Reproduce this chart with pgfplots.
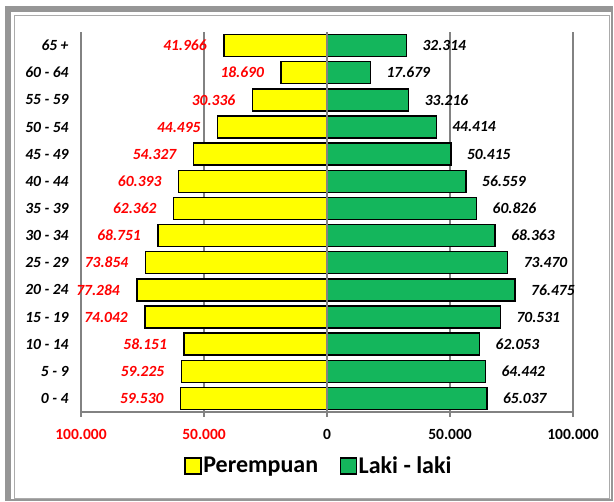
\documentclass[border=0pt]{standalone}
\usepackage{fontspec}
\setmainfont{Carlito}
\usepackage{pgfplots}
\pgfplotsset{compat=1.18}
\definecolor{fem}{RGB}{255,255,0}
\definecolor{mal}{RGB}{20,182,92}
\definecolor{lab}{RGB}{255,0,0}
\definecolor{framec}{RGB}{150,150,150}
\definecolor{gridc}{RGB}{130,130,130}
\begin{document}
\begin{tikzpicture}
\path (-81pt,-90pt) rectangle (533pt,412pt);
\fill[framec] (-75pt,400pt) rectangle (531pt,405pt);
\fill[framec] (-75pt,-88pt) rectangle (-70pt,405pt);
\draw[framec, line width=1.2pt] (-75pt,-88pt) rectangle (531pt,405pt);
\draw[framec!80, line width=0.8pt] (-67pt,-86pt) rectangle (528pt,397pt);
\begin{axis}[
  at={(0pt,0pt)}, anchor=south west,
  scale only axis, width=492pt, height=380pt,
  xbar, bar width=22pt, bar shift=0pt,
  xmin=-100000, xmax=100000, ymin=-0.5, ymax=13.5,
  scaled x ticks=false,
  ytick={0,...,13},
  yticklabels={0 - 4,5 - 9,10 - 14,15 - 19,20 - 24,25 - 29,30 - 34,35 - 39,40 - 44,45 - 49,50 - 54,55 - 59,60 - 64,65 +},
  xtick={-100000,-50000,0,50000,100000},
  xticklabels={\textcolor{lab}{100.000},\textcolor{lab}{50.000},0,50.000,100.000},
  /pgf/number format/assume math mode=true,
  tick label style={font=\fontsize{15.5}{18}\selectfont\bfseries},
  yticklabel style={font=\fontsize{15.5}{18}\selectfont\bfseries\itshape, xshift=-4pt},
  xticklabel style={yshift=-9pt},
  axis lines*=left,
  axis line style={gridc, line width=1.5pt},
  ytick style={draw=none},
  xtick style={gridc, line width=1.2pt},
  xtick align=outside, major tick length=5pt,
  xmajorgrids, grid style={gridc, line width=1.5pt},
  legend style={at={(0.483,-0.142)}, anchor=center, draw=none, fill=none,
    legend columns=2, font=\fontsize{24}{28}\selectfont\bfseries,
    /tikz/every even column/.append style={column sep=20pt},
    nodes={inner sep=1.5pt}},
  legend image code/.code={\draw[#1, draw=black, line width=1.5pt] (0pt,-8pt) rectangle (16pt,8pt);},
  point meta=explicit symbolic,
  nodes near coords,
]
\addplot[fill=fem, draw=black, line width=1.5pt,
  every node near coord/.append style={anchor=east, text=lab, xshift=-13pt,
    font=\fontsize{15.5}{18}\selectfont\bfseries\itshape}]
coordinates {
(-59530,0) [59.530]
(-59225,1) [59.225]
(-58151,2) [58.151]
(-74042,3) [74.042]
(-77284,4) [77.284]
(-73854,5) [73.854]
(-68751,6) [68.751]
(-62362,7) [62.362]
(-60393,8) [60.393]
(-54327,9) [54.327]
(-44495,10) [44.495]
(-30336,11) [30.336]
(-18690,12) [18.690]
(-41966,13) [41.966]
};
\addlegendentry{Perempuan}
\addplot[fill=mal, draw=black, line width=1.5pt,
  every node near coord/.append style={anchor=west, text=black, xshift=12pt,
    font=\fontsize{15.5}{18}\selectfont\bfseries\itshape}]
coordinates {
(65037,0) [65.037]
(64442,1) [64.442]
(62053,2) [62.053]
(70531,3) [70.531]
(76475,4) [76.475]
(73470,5) [73.470]
(68363,6) [68.363]
(60826,7) [60.826]
(56559,8) [56.559]
(50415,9) [50.415]
(44414,10) [44.414]
(33216,11) [33.216]
(17679,12) [17.679]
(32314,13) [32.314]
};
\addlegendentry{Laki - laki}
\draw[gridc, line width=1.5pt] (axis cs:0,-0.5) -- (axis cs:0,13.5);
\end{axis}
\end{tikzpicture}
\end{document}
